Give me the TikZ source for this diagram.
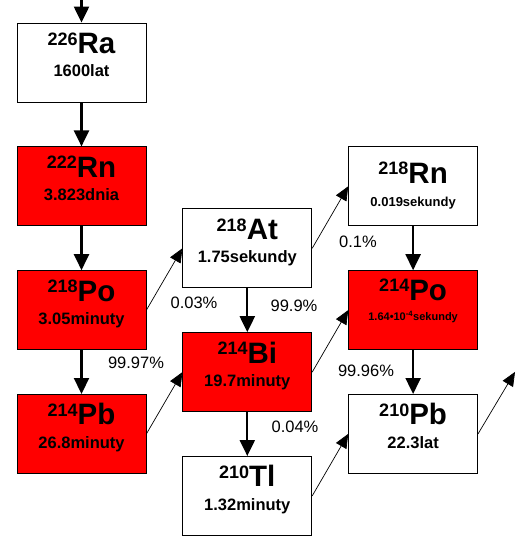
\documentclass[tikz,border=0pt]{standalone}
\usepackage{fontspec}
\setmainfont{Liberation Sans}
\usetikzlibrary{positioning,arrows.meta}

% mass number, symbol, half-life; #1 and #2 shift the two lines
\newcommand{\nucl}[5]{%
  \raisebox{#1}[0pt][0pt]{\makebox[0pt]{\raisebox{8.3pt}{\fontsize{18}{18}\selectfont #3}\fontsize{29.5}{29.5}\selectfont #4}}%
  \raisebox{#2}[0pt][0pt]{\makebox[0pt]{\fontsize{16.5}{16.5}\selectfont #5}}}
\newcommand{\isotope}[3]{\nucl{9pt}{-14.5pt}{#1}{#2}{#3}}

\tikzset{nuc/.style={draw,line width=0.8pt,minimum width=129pt,minimum height=79pt,inner sep=0pt,font=\bfseries},
         white nuc/.style={nuc,fill=white},
         red nuc/.style={nuc,fill=red},
         decay/.style={-{Triangle[width=15pt,length=16pt]},line width=2.2pt},
         branch/.style={-{Triangle[width=12pt,length=14pt]},line width=0.7pt},
         pct/.style={font=\fontsize{16.5}{16.5}\selectfont,inner sep=0pt},
            }

\begin{document}
\begin{tikzpicture}[x=1pt,y=1pt]
    \useasboundingbox (0,0) rectangle (515,-537);

    \node[white nuc] (ra226) at (81.5,-62.5) {\isotope{226}{Ra}{1600lat}};
    \node[red nuc] (rn222) [below=44pt of ra226] {\isotope{222}{Rn}{3.823dnia}};
    \node[red nuc] (po218) [below=44pt of rn222] {\isotope{218}{Po}{3.05minuty}};
    \node[red nuc] (pb214) [below=44pt of po218] {\isotope{214}{Pb}{26.8minuty}};

    \node[red nuc] (bi214) [right=36pt of po218, yshift=-62pt] {\isotope{214}{Bi}{19.7minuty}};
    \node[white nuc] (at218) [above=44pt of bi214] {\isotope{218}{At}{1.75sekundy}};
    \node[white nuc] (tl210) [below=44pt of bi214] {\isotope{210}{Tl}{1.32minuty}};

    \node[white nuc] (rn218) [right=36pt of at218, yshift=62pt] {\nucl{3pt}{-20pt}{218}{Rn}{\fontsize{13}{13}\selectfont 0.019sekundy}};
    \node[red nuc] (po214) [below=44pt of rn218] {\nucl{10pt}{-10.5pt}{214}{Po}{\fontsize{11}{11}\selectfont 1.64\textbullet10\textsuperscript{-4}sekundy}};
    \node[white nuc] (pb210) [below=44pt of po214] {\isotope{210}{Pb}{22.3lat}};

    \coordinate (in) at ([yshift=24pt]ra226.north);
    \coordinate (out) at ([shift={(37pt,62pt)}]pb210.east);

    % branching ratios
    \node[pct] (b9997) at (136,-363) {99.97\%};
    \node[pct] (b003) at (194,-303) {0.03\%};
    \node[pct] (b999) at (294,-306) {99.9\%};
    \node[pct] (b01) at (358,-242) {0.1\%};
    \node[pct] (b9996) at (366,-371) {99.96\%};
    \node[pct] (b004) at (295,-427) {0.04\%};

    \path[decay]
    (in) edge (ra226)
    (ra226) edge (rn222)
    (rn222) edge (po218)
    (po218) edge (pb214)
    (at218) edge (bi214)
    (bi214) edge (tl210)
    (rn218) edge (po214)
    (po214) edge (pb210);

    \path[branch]
    (po218.east) edge (at218.west)
    (pb214.east) edge (bi214.west)
    (at218.east) edge (rn218.west)
    (bi214.east) edge (po214.west)
    (tl210.east) edge (pb210.west)
    (pb210.east) edge (out);

\end{tikzpicture}
\end{document}
